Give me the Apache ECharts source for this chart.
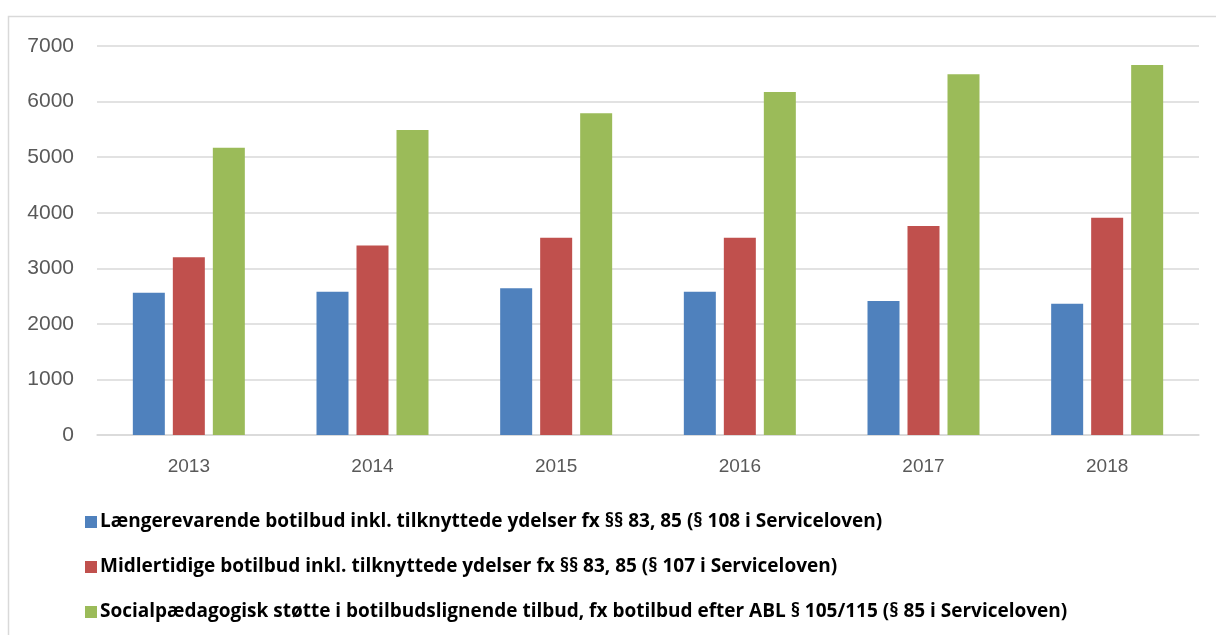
<!DOCTYPE html>
<html>
<head>
<meta charset="utf-8">
<script src="https://cdn.jsdelivr.net/npm/echarts@6/dist/echarts.min.js"></script>
<style>
html,body{margin:0;padding:0;background:#fff;}
#c{width:1216px;height:635px;}
</style>
</head>
<body>
<div id="c"></div>
<script>
const categories = ['2013', '2014', '2015', '2016', '2017', '2018'];
const seriesNames = [
  'Længerevarende botilbud inkl. tilknyttede ydelser fx §§ 83, 85 (§ 108 i Serviceloven)',
  'Midlertidige botilbud inkl. tilknyttede ydelser fx §§ 83, 85 (§ 107 i Serviceloven)',
  'Socialpædagogisk støtte i botilbudslignende tilbud, fx botilbud efter ABL § 105/115 (§ 85 i Serviceloven)'
];
const laengerevarende = [2560, 2580, 2640, 2580, 2410, 2360];
const midlertidige = [3200, 3410, 3550, 3550, 3760, 3910];
const socialpaedagogisk = [5170, 5490, 5790, 6170, 6490, 6660];
const yTicks = [0, 1000, 2000, 3000, 4000, 5000, 6000, 7000];
const colors = ['#4F81BD', '#C0504D', '#9BBB59'];

const chart = echarts.init(document.getElementById('c'), null, {renderer: 'canvas'});
const values = [laengerevarende, midlertidige, socialpaedagogisk];
chart.setOption({
  animation: false,
  color: colors,
  graphic: [{
    type: 'rect',
    shape: {x: 8.5, y: 16.5, width: 1230, height: 650},
    style: {fill: 'none', stroke: '#d9d9d9', lineWidth: 1.5},
    silent: true
  }],
  grid: {left: 97, right: 17, top: 46, bottom: 200, containLabel: false},
  legend: {
    orient: 'vertical',
    left: 80,
    top: 506,
    itemWidth: 12,
    itemHeight: 12,
    itemGap: 23,
    icon: 'rect',
    textStyle: {
      fontFamily: 'Open Sans',
      fontWeight: 'bold',
      fontSize: 19,
      color: '#000',
      lineHeight: 22,
      padding: [0, 0, 0, -2]
    },
    data: seriesNames
  },
  xAxis: {
    type: 'category',
    data: categories,
    axisLine: {show: true, lineStyle: {color: '#d9d9d9', width: 1.5}},
    axisTick: {show: false},
    axisLabel: {
      fontFamily: 'Liberation Sans',
      fontSize: 19,
      color: '#595959',
      margin: 22
    }
  },
  yAxis: {
    type: 'value',
    min: yTicks[0],
    max: yTicks[yTicks.length - 1],
    interval: yTicks[1] - yTicks[0],
    axisLine: {show: false},
    axisTick: {show: false},
    splitLine: {lineStyle: {color: '#d9d9d9', width: 1.5}},
    axisLabel: {
      fontFamily: 'Liberation Sans',
      fontSize: 21,
      color: '#595959',
      margin: 23,
      formatter: v => String(v)
    }
  },
  series: seriesNames.map((n, i) => ({
    name: n,
    type: 'bar',
    data: values[i],
    barWidth: 32,
    barGap: '25%',
    itemStyle: {color: colors[i]}
  }))
});
</script>
</body>
</html>
